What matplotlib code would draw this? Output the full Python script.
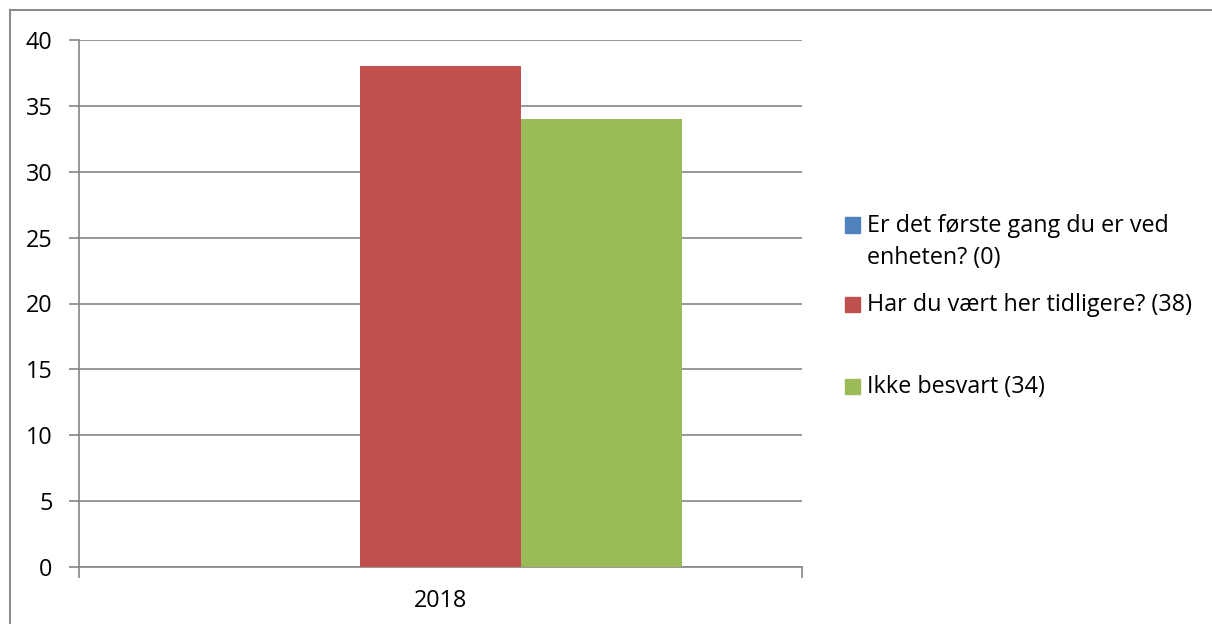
import matplotlib.pyplot as plt
from matplotlib.patches import Rectangle
from matplotlib.lines import Line2D

# data
categories = ['2018']
series_labels = ['Er det første gang du er ved\nenheten? (0)',
                 'Har du vært her tidligere? (38)',
                 'Ikke besvart (34)']
series_values = [0, 38, 34]
colors = ['#4F81BD', '#C0504D', '#9BBB59']
y_ticks = [0, 5, 10, 15, 20, 25, 30, 35, 40]

plt.rcParams['font.family'] = ['Open Sans', 'DejaVu Sans']
FS = 16.8

W, H = 1212, 624
fig = plt.figure(figsize=(W / 100, H / 100), dpi=100)
ax = fig.add_axes([79 / W, 1 - 567 / H, (802 - 79) / W, (567 - 40) / H])

bw = 161 / 723
for i, (v, c) in enumerate(zip(series_values, colors)):
    ax.bar((i - 1) * bw, v, width=bw, color=c, zorder=3)

ax.set_xlim(-0.5, 0.5)
ax.set_ylim(0, 40)
ax.set_yticks(y_ticks)
ax.yaxis.grid(True, color='#868686', linewidth=1.2, zorder=0)
ax.set_axisbelow(True)

ax.set_xticks([-0.5, 0.5])
ax.set_xticklabels(['', ''])
ax.set_xticks([0], minor=True)
ax.set_xticklabels(categories, minor=True)
ax.tick_params(axis='x', which='minor', length=0, pad=16, labelsize=FS)
ax.tick_params(axis='x', which='major', length=8, width=1.2, color='#868686')
ax.tick_params(axis='y', length=7, width=1.2, color='#868686', labelsize=FS, pad=12)

for s in ['top', 'right']:
    ax.spines[s].set_visible(False)
for s in ['left', 'bottom']:
    ax.spines[s].set_color('#868686')
    ax.spines[s].set_linewidth(1.2)

# legend, placed by hand like the Excel layout
leg_y = [225, 304, 386]
for lab, c, yc in zip(series_labels, colors, leg_y):
    fig.patches.append(Rectangle((845 / W, 1 - (yc + 7.5) / H), 15 / W, 15 / H,
                                 transform=fig.transFigure, color=c))
    fig.text(867 / W, 1 - (yc - 11) / H, lab, fontsize=FS, va='top',
             ha='left', linespacing=1.42)

# outer border
bc = '#8C8C8C'
fig.add_artist(Line2D([10 / W, 10 / W], [0, 1 - 10 / H], color=bc, lw=1.5, transform=fig.transFigure))
fig.add_artist(Line2D([10 / W, 1], [1 - 10 / H, 1 - 10 / H], color=bc, lw=1.5, transform=fig.transFigure))

fig.savefig('out.png', dpi=100)
